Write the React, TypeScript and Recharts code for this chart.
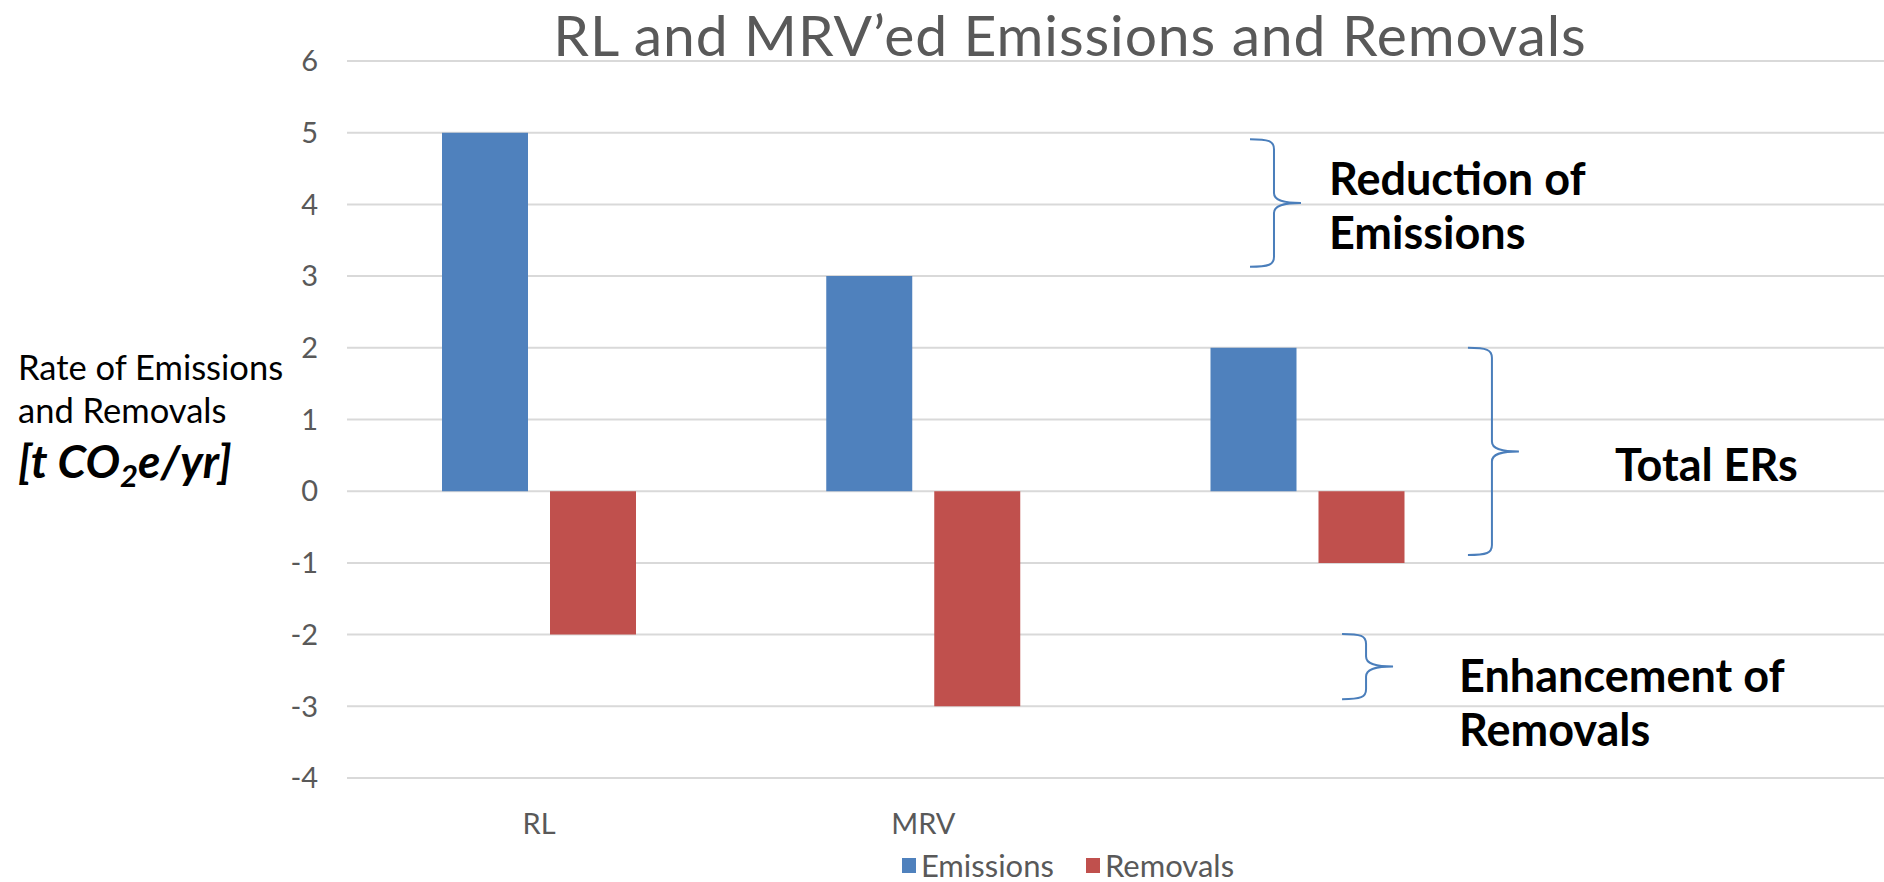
import React from 'react';
import { BarChart, Bar, XAxis, YAxis, CartesianGrid, Legend, ReferenceArea } from 'recharts';

const categories = ['RL', 'MRV', '', ''];
const emissions = [5, 3, 2, null];
const removals = [-2, -3, -1, null];
const yTicks = [-4, -3, -2, -1, 0, 1, 2, 3, 4, 5, 6];

// braces on the right: span on the value axis and the text beside them
const braceTop = [4.91, 2.0, -1.99];
const braceBottom = [3.13, -0.89, -2.9];
const braceText = [['Reduction of', 'Emissions'], ['Total ERs'], ['Enhancement of', 'Removals']];

// where each brace sits across the plot and how its text is offset from the tip
const braceLayout = [
  { frac: 0.5875, dx: 28, dy: [-8, 46] },
  { frac: 0.7293, dx: 96, dy: [30] },
  { frac: 0.6474, dx: 66, dy: [25, 79] },
];

const data = categories.map((name, i) => ({
  name,
  emissions: emissions[i],
  removals: removals[i],
}));

const W = 1884;
const H = 882;
const FONT = 'Lato, "Open Sans", sans-serif';
const GREY = '#595959';
const BRACE = '#4a7ebb';

function braceShape(idx: number) {
  return (props: any) => {
    const { x, y, width, height } = props;
    const lay = braceLayout[idx];
    const x0 = x + width * lay.frac;
    const xs = x0 + 24;
    const xt = xs + 27;
    const yT = y;
    const yB = y + height;
    const yM = y + height / 2;
    const d = [
      `M${x0},${yT}`,
      `C${xs - 5},${yT} ${xs},${yT + 2} ${xs},${yT + 10}`,
      `L${xs},${yM - 10}`,
      `C${xs},${yM - 3} ${xs + 8},${yM} ${xt},${yM}`,
      `C${xs + 8},${yM} ${xs},${yM + 3} ${xs},${yM + 10}`,
      `L${xs},${yB - 10}`,
      `C${xs},${yB - 2} ${xs - 5},${yB} ${x0},${yB}`,
    ].join(' ');
    return (
      <g>
        <path d={d} fill="none" stroke={BRACE} strokeWidth={2} />
        {braceText[idx].map((t, k) => (
          <text
            key={k}
            x={xt + lay.dx}
            y={yM + lay.dy[k]}
            fontFamily={FONT}
            fontWeight={700}
            fontSize={45}
            fill="#000"
          >
            {t}
          </text>
        ))}
      </g>
    );
  };
}

const renderLegend = ({ payload }: any) => (
  <div
    style={{
      display: 'flex',
      justifyContent: 'center',
      paddingLeft: 252,
      fontFamily: FONT,
      fontSize: 31,
      lineHeight: '31px',
      color: GREY,
    }}
  >
    {(payload || []).map((p: any, i: number) => (
      <span key={p.value} style={{ display: 'flex', alignItems: 'center', marginLeft: i ? 32 : 0 }}>
        <span style={{ width: 14, height: 15, background: p.color, marginRight: 5, display: 'inline-block' }} />
        {p.value}
      </span>
    ))}
  </div>
);

export default function App() {
  return (
    <div style={{ position: 'absolute', left: 0, top: 0, width: W, height: H, background: '#fff' }}>
      <BarChart
        width={W}
        height={H}
        data={data}
        margin={{ top: 61, right: 0, bottom: 0, left: 0 }}
        barCategoryGap={95}
        barGap={22}
      >
        <CartesianGrid vertical={false} stroke="#d9d9d9" strokeWidth={2} />
        <XAxis
          dataKey="name"
          height={104}
          interval={0}
          axisLine={false}
          tickLine={false}
          tickSize={0}
          tickMargin={35}
          tick={{ fill: GREY, fontSize: 29, fontFamily: FONT }}
        />
        <YAxis
          width={347}
          domain={[-4, 6]}
          ticks={yTicks}
          interval={0}
          axisLine={false}
          tickLine={false}
          tickSize={0}
          tickMargin={29}
          tick={{ fill: GREY, fontSize: 29, fontFamily: FONT }}
        />
        <Legend
          verticalAlign="middle"
          align="center"
          content={renderLegend}
          wrapperStyle={{ top: 850, left: 0, width: W, height: 31 }}
        />
        <Bar dataKey="emissions" name="Emissions" fill="#4f81bd" isAnimationActive={false} />
        <Bar dataKey="removals" name="Removals" fill="#c0504d" isAnimationActive={false} />
        {braceTop.map((top, i) => (
          <ReferenceArea key={i} y1={top} y2={braceBottom[i]} shape={braceShape(i)} />
        ))}
      </BarChart>
      <svg
        width={W}
        height={H}
        style={{ position: 'absolute', left: 0, top: 0, pointerEvents: 'none' }}
      >
        <text
          x={1070}
          y={56}
          textAnchor="middle"
          fontFamily={FONT}
          fontSize={57}
          letterSpacing={0.9}
          fill={GREY}
        >
          RL and MRV’ed Emissions and Removals
        </text>
        <text x={18} y={380} fontFamily={FONT} fontSize={34.5} fill="#000">
          Rate of Emissions
        </text>
        <text x={18} y={423} fontFamily={FONT} fontSize={34.5} fill="#000">
          and Removals
        </text>
        <text x={18} y={478} fontFamily={FONT} fontSize={46} fontWeight={700} fontStyle="italic" fill="#000">
          [t CO
          <tspan fontSize={31} dy={9}>2</tspan>
          <tspan dy={-9}>e/yr]</tspan>
        </text>
      </svg>
    </div>
  );
}
